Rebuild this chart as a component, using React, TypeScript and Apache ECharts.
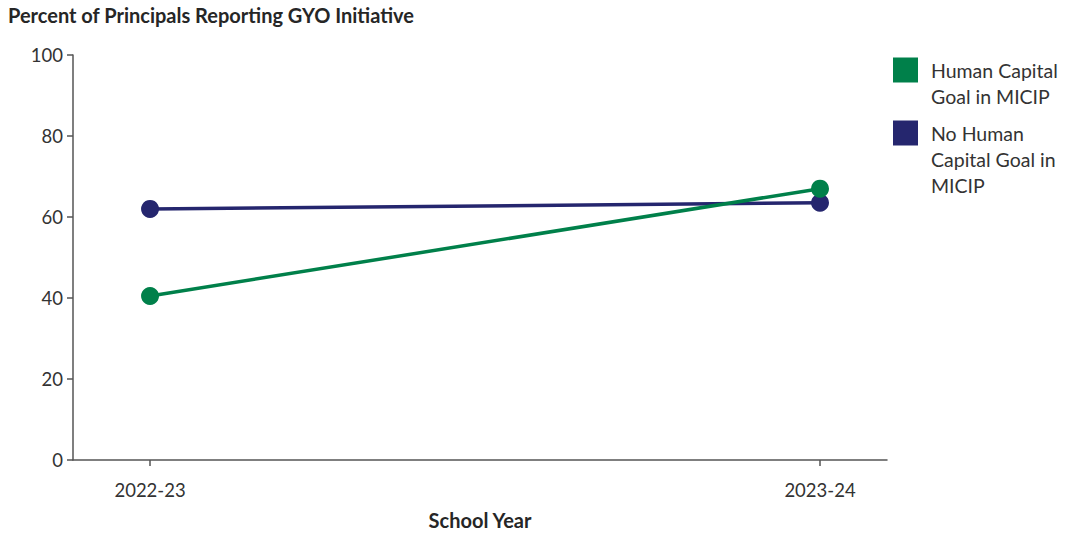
import React, { useEffect, useRef } from "react";
import * as echarts from "echarts";

// School years on the x axis and the share of principals per group
const schoolYears = ["2022-23", "2023-24"];
const humanCapitalGoal = [40.5, 67];
const noHumanCapitalGoal = [62, 63.5];
const yTicks = [0, 20, 40, 60, 80, 100];

const seriesNames = ["Human Capital Goal", "No Human Capital Goal"];
const legendLabels = ["Human Capital\nGoal in MICIP", "No Human\nCapital Goal in\nMICIP"];

const GREEN = "#00804a";
const NAVY = "#25266e";
const AXIS = "#555555";
const TEXT = "#333333";
const FONT = "Lato, 'Open Sans', sans-serif";

const toPoints = (vals: number[]) => schoolYears.map((_, i) => [i, vals[i]]);

// Legend text is centred on the swatch; leading blank lines push the
// first line of the label level with the swatch.
const legendFormatter = (name: string) => {
  const label = legendLabels[seriesNames.indexOf(name)] ?? name;
  const lines = label.split("\n").length;
  return "\n".repeat(lines - 1) + label;
};

export default function App() {
  const ref = useRef<HTMLDivElement>(null);

  useEffect(() => {
    if (!ref.current) return;
    const chart = echarts.init(ref.current, undefined, { renderer: "svg" });
    const yearIdx = schoolYears.map((_, i) => i);

    const legendBase = {
      orient: "vertical",
      left: 893,
      padding: 0,
      icon: "rect",
      itemWidth: 25,
      itemHeight: 25,
      itemGap: 0,
      formatter: legendFormatter,
      textStyle: {
        fontFamily: FONT,
        fontSize: 19.5,
        color: TEXT,
        lineHeight: 26,
        padding: [0, 0, 0, 8],
      },
    };

    chart.setOption({
      animation: false,
      backgroundColor: "#ffffff",
      title: {
        text: "Percent of Principals Reporting GYO Initiative",
        left: 8,
        top: 5,
        padding: 0,
        textStyle: { fontFamily: FONT, fontWeight: "bold", fontSize: 20, color: "#262626" },
      },
      legend: [
        { ...legendBase, top: 31, data: [seriesNames[0]] },
        { ...legendBase, top: 68, data: [seriesNames[1]] },
      ],
      grid: { left: 73, right: 178, top: 55, bottom: 71 },
      xAxis: {
        type: "value",
        min: -0.115,
        max: 1.1,
        name: "School Year",
        nameLocation: "middle",
        nameGap: 50,
        nameTextStyle: { fontFamily: FONT, fontWeight: "bold", fontSize: 20, color: "#262626" },
        axisLine: { show: true, onZero: false, lineStyle: { color: AXIS, width: 1.5 } },
        axisTick: { show: true, customValues: yearIdx, length: 6, lineStyle: { color: AXIS, width: 1.5 } },
        axisLabel: {
          customValues: yearIdx,
          margin: 20,
          fontFamily: FONT,
          fontSize: 18.5,
          color: TEXT,
          formatter: (v: number) => schoolYears[Math.round(v)] ?? "",
        },
        splitLine: { show: false },
      },
      yAxis: {
        type: "value",
        min: 0,
        max: 100,
        interval: 20,
        axisLine: { show: true, onZero: false, lineStyle: { color: AXIS, width: 1.5 } },
        axisTick: { show: true, length: 6, lineStyle: { color: AXIS, width: 1.5 } },
        axisLabel: {
          margin: 10,
          fontFamily: FONT,
          fontSize: 18.5,
          color: TEXT,
          formatter: (v: number) => (yTicks.includes(v) ? String(v) : ""),
        },
        splitLine: { show: false },
      },
      series: [
        {
          name: seriesNames[1],
          type: "line",
          data: toPoints(noHumanCapitalGoal),
          symbol: "circle",
          symbolSize: 18,
          itemStyle: { color: NAVY },
          lineStyle: { color: NAVY, width: 3.5 },
        },
        {
          name: seriesNames[0],
          type: "line",
          data: toPoints(humanCapitalGoal),
          symbol: "circle",
          symbolSize: 18,
          itemStyle: { color: GREEN },
          lineStyle: { color: GREEN, width: 3.5 },
        },
      ],
    });

    return () => chart.dispose();
  }, []);

  return (
    <div
      ref={ref}
      style={{ position: "fixed", left: 0, top: 0, width: 1065, height: 535 }}
    />
  );
}
